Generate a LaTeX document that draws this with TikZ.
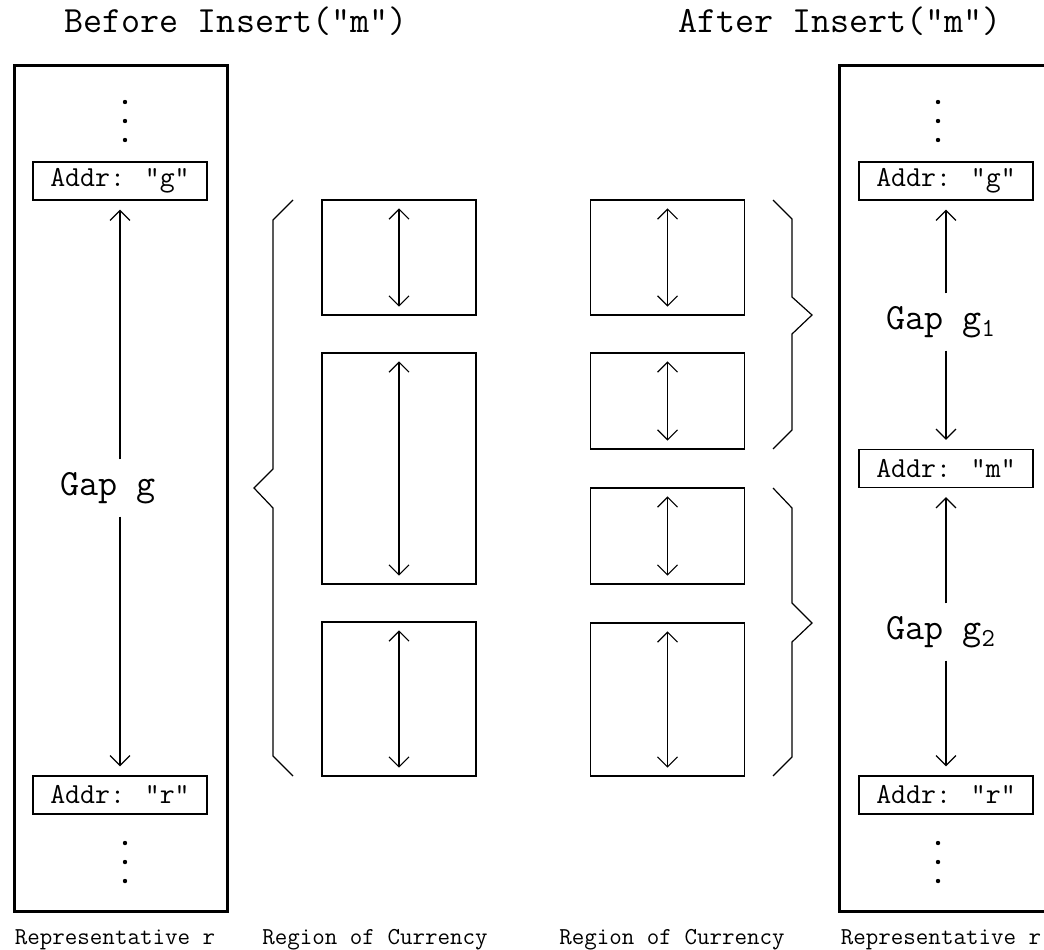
\documentclass[tikz,border=0pt]{standalone}
\usepackage{fontspec}
\usetikzlibrary{arrows.meta}

\tikzset{
  >={Straight Barb[length=10pt,width=20pt]},
  title/.style={font=\ttfamily\fontsize{37}{44}\selectfont, anchor=base},
  caption/.style={font=\ttfamily\fontsize{24.3}{29}\selectfont, anchor=base},
  frame/.style={draw, line width=3pt, inner sep=0pt,
    minimum width=213pt, minimum height=845pt},
  addr/.style={draw, line width=1.2pt, inner sep=0pt,
    minimum width=174pt, minimum height=38pt,
    font=\ttfamily\fontsize{29}{34}\selectfont},
  gaplabel/.style={inner sep=0pt, minimum height=56pt,
    font=\ttfamily\fontsize{37}{44}\selectfont},
  region/.style={draw, line width=1.4pt, inner sep=0pt, minimum width=154pt},
  gaparrow/.style={->, shorten >=9pt},
  span/.style={<->, shorten <=9pt, shorten >=9pt},
}

\begin{document}
\begin{tikzpicture}[x=1pt, y=-1pt, line width=1.2pt]
        \useasboundingbox (0,0) rectangle (1044,950);
        \clip (0,0) rectangle (1044,950);

        % Titles
        \node[title] (titleL) at (236,33) {Before Insert("m")};
        \node[title] (titleR) at (840,33) {After Insert("m")};

        % Representative r, before the insert
        \node[frame] (repL) at (120.5,488.5) {};
        \foreach \y in {102,121,140,843,862,881}
          \fill (125,\y) circle (2.2pt);
        \node[addr] (addrgL) at (120,181) {Addr: "g"};
        \node[addr] (addrrL) at (120,795) {Addr: "r"};
        \node[gaplabel] (gapL) at (108,488) {Gap g};
        \draw[gaparrow] (gapL.north -| addrgL) -- (addrgL);
        \draw[gaparrow] (gapL.south -| addrrL) -- (addrrL);

        % Representative r, after the insert
        \node[frame] (repR) at (945.5,488.5) {};
        \foreach \y in {102,121,140,843,862,881}
          \fill (938,\y) circle (2.2pt);
        \node[addr] (addrgR) at (946,181) {Addr: "g"};
        \node[addr] (addrmR) at (946,468.5) {Addr: "m"};
        \node[addr] (addrrR) at (946,795) {Addr: "r"};
        \node[gaplabel] (gap1) at (941,322) {Gap g\textsubscript{1}};
        \node[gaplabel] (gap2) at (941,632) {Gap g\textsubscript{2}};
        \draw[gaparrow] (gap1.north -| addrgR) -- (addrgR);
        \draw[gaparrow] (gap1.south -| addrmR) -- (addrmR);
        \draw[gaparrow] (gap2.north -| addrmR) -- (addrmR);
        \draw[gaparrow] (gap2.south -| addrrR) -- (addrrR);

        % Regions of currency
        \node[region, minimum height=115pt] (before1) at (399,257.5) {};
        \node[region, minimum height=231pt] (before2) at (399,468.5) {};
        \node[region, minimum height=154pt] (before3) at (399,699) {};
        \node[region, minimum height=115pt] (after1) at (667.5,257.5) {};
        \node[region, minimum height=96pt] (after2) at (667.5,401) {};
        \node[region, minimum height=96pt] (after3) at (667.5,536) {};
        \node[region, minimum height=153pt] (after4) at (667.5,699.5) {};
        \foreach \b in {before1,before2,before3,after1,after2,after3,after4}
          \draw[span] (\b.north) -- (\b.south);

        % Braces
        \draw (293,200) -- (273,220) -- (273,469) -- (254,488)
          -- (273,508) -- (273,756) -- (293,776);
        \draw (773,200) -- (792,219) -- (792,297) -- (812,315)
          -- (792,334) -- (792,430) -- (773,449);
        \draw (773,488) -- (792,508) -- (792,603) -- (812,623)
          -- (792,642) -- (792,757) -- (773,776);

        % Captions
        \node[caption] (capRepL) at (115,944) {Representative r};
        \node[caption] (capRegL) at (375,944) {Region of Currency};
        \node[caption] (capRegR) at (672,944) {Region of Currency};
        \node[caption] (capRepR) at (941,944) {Representative r};
    \end{tikzpicture}
\end{document}
